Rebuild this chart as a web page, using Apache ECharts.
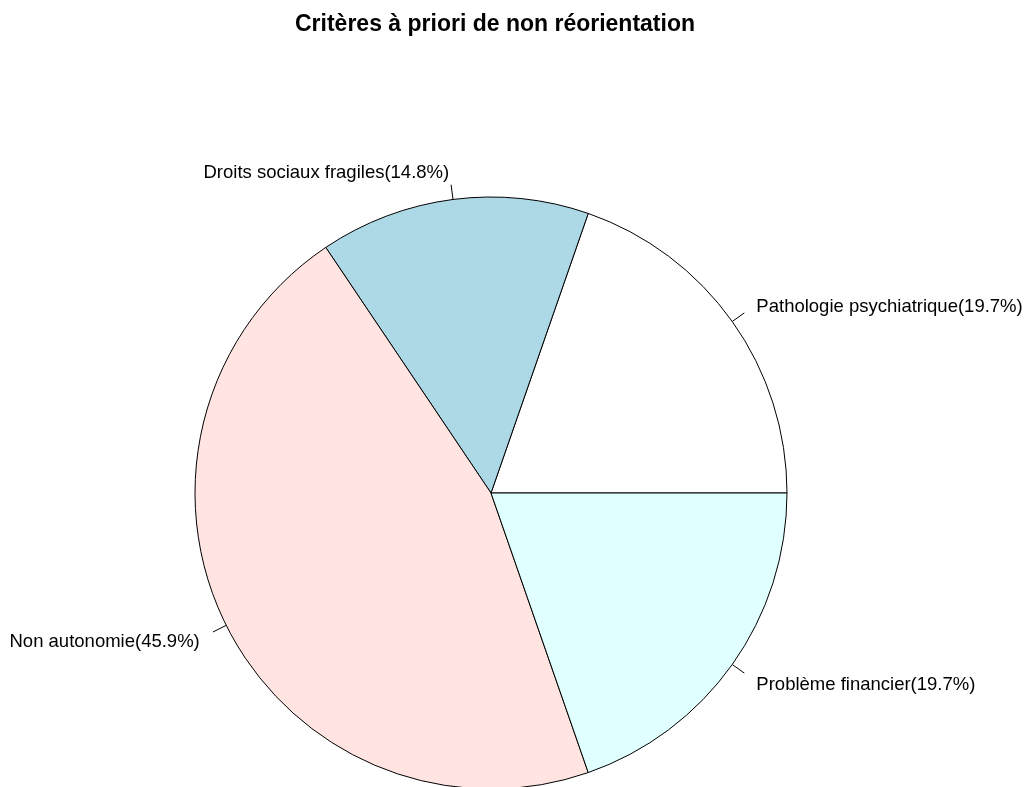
<!DOCTYPE html>
<html>
<head>
<meta charset="utf-8">
<script src="https://cdn.jsdelivr.net/npm/echarts@6/dist/echarts.min.js"></script>
<style>html,body{margin:0;padding:0;background:#fff;}#c{width:1028px;height:787px;}</style>
</head>
<body>
<div id="c"></div>
<script>
var categories = ['Pathologie psychiatrique', 'Droits sociaux fragiles', 'Non autonomie', 'Problème financier'];
var values = [12, 9, 28, 12];
var percentLabels = ['19.7%', '14.8%', '45.9%', '19.7%'];
var colors = ['#FFFFFF', '#ADD8E6', '#FFE4E1', '#E0FFFF'];

var chart = echarts.init(document.getElementById('c'), null, {renderer: 'canvas'});
var R = 296;
chart.setOption({
  animation: false,
  backgroundColor: '#fff',
  title: {
    text: 'Critères à priori de non réorientation',
    left: 490, top: 8, textAlign: 'center',
    textStyle: {fontFamily: 'Liberation Sans', fontWeight: 'bold', fontSize: 23, color: '#000'}
  },
  series: [{
    type: 'pie',
    center: [491, 493],
    radius: [0, R],
    startAngle: 0,
    clockwise: false,
    avoidLabelOverlap: false,
    data: categories.map(function (c, i) {
      return {name: c, value: values[i], itemStyle: {color: colors[i]}};
    }),
    itemStyle: {borderColor: '#000', borderWidth: 1},
    emphasis: {disabled: true},
    label: {
      show: true,
      position: 'outside',
      fontFamily: 'Liberation Sans',
      fontSize: 18.5,
      color: '#000',
      distanceToLabelLine: 0,
      formatter: function (p) { return p.name + '(' + percentLabels[p.dataIndex] + ')'; }
    },
    labelLine: {show: true, length: 0.1 * R, length2: 0, smooth: false, lineStyle: {color: '#000', width: 1}},
    labelLayout: function (params) {
      var pts = params.labelLinePoints;
      if (!pts) return {};
      var p0 = pts[0], p1 = pts[1];
      var m = [(p0[0] + p1[0]) / 2, (p0[1] + p1[1]) / 2];
      return {dy: 3, labelLinePoints: [p0, m, m]};
    }
  }]
});
</script>
</body>
</html>
